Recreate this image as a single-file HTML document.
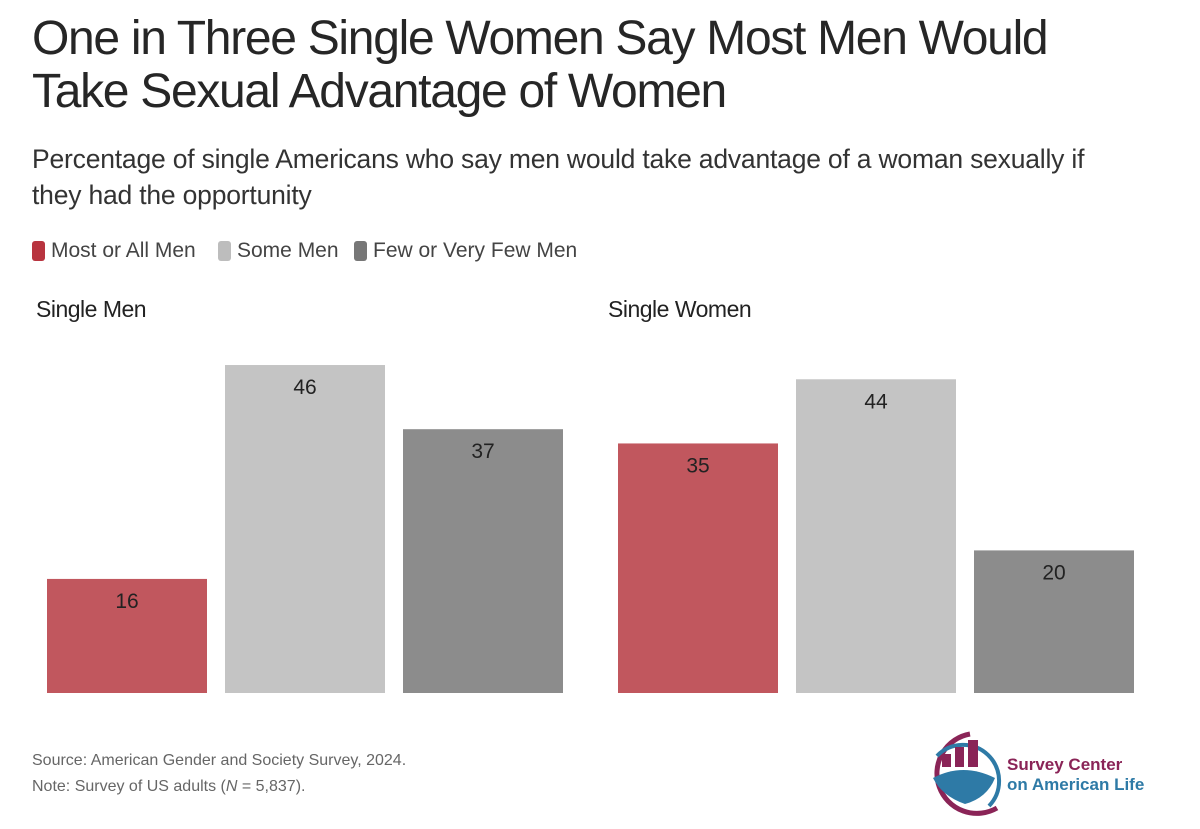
<!DOCTYPE html>
<html><head><meta charset="utf-8">
<style>
body{margin:0;background:#fff;width:1200px;height:829px;overflow:hidden;font-family:"Liberation Sans",sans-serif;color:#2a2a2a;position:relative}
.abs{position:absolute;white-space:nowrap}
#title{left:32px;top:12px;font-size:48px;line-height:53px;letter-spacing:-1.3px;color:#262626}
#sub{left:32px;top:141px;font-size:26.5px;line-height:36px;color:#333;letter-spacing:-0.2px}
.leg{top:239px;font-size:21px;color:#444}
.sw{position:absolute;top:241px;width:13px;height:20px;border-radius:3px}
.panel{top:296px;font-size:23px;color:#222;letter-spacing:-0.5px}
.src{left:32px;font-size:16px;color:#666}
</style></head><body>
<div class="abs" id="title">One in Three Single Women Say Most Men Would<br>Take Sexual Advantage of Women</div>
<div class="abs" id="sub">Percentage of single Americans who say men would take advantage of a woman sexually if<br>they had the opportunity</div>
<div class="sw" style="left:32px;background:#b8343f"></div>
<div class="abs leg" style="left:51px">Most or All Men</div>
<div class="sw" style="left:218px;background:#bdbdbd"></div>
<div class="abs leg" style="left:237px">Some Men</div>
<div class="sw" style="left:354px;background:#777"></div>
<div class="abs leg" style="left:373px">Few or Very Few Men</div>
<div class="abs panel" style="left:36px">Single Men</div>
<div class="abs panel" style="left:608px">Single Women</div>
<svg class="abs" style="left:0;top:0" width="1200" height="829" id="chart"></svg>
<div class="abs src" style="top:752px">Source: American Gender and Society Survey, 2024.</div>
<div class="abs src" style="top:778px">Note: Survey of US adults (<i>N</i> = 5,837).</div>
<svg class="abs" style="left:915px;top:728px" width="280" height="92">
<path d="M55 6 A40 40 0 1 0 82 80" fill="none" stroke="#8a2457" stroke-width="5"/>
<path d="M22 28 A36 36 0 1 1 74 78" fill="none" stroke="#2e7aa6" stroke-width="4"/>
<rect x="27" y="26" width="9" height="13" fill="#8a2457"/><rect x="40" y="19" width="9" height="20" fill="#8a2457"/><rect x="53" y="12" width="10" height="27" fill="#8a2457"/>
<path d="M18 50 Q48 34 80 50 Q72 70 50 76 Q27 68 18 50Z" fill="#2e7aa6"/>
<text x="92" y="42" font-family="Liberation Sans,sans-serif" font-size="17" font-weight="bold" fill="#8a2457">Survey Center</text>
<text x="92" y="62" font-family="Liberation Sans,sans-serif" font-size="17" font-weight="bold" fill="#2e7aa6">on American Life</text>
</svg>
<script>
const categories=["Most or All Men","Some Men","Few or Very Few Men"];
const menValues=[16,46,37];
const womenValues=[35,44,20];
const colors=["#c1575e","#c4c4c4","#8c8c8c"];
const svg=document.getElementById('chart');
const NS='http://www.w3.org/2000/svg';
const base=693, scale=7.13;
function y(v){return base-v*scale;}
function draw(vals,x0,grp){
 vals.forEach((v,i)=>{
  const x=x0+i*178;
  const r=document.createElementNS(NS,'rect');
  r.setAttribute('x',x);r.setAttribute('y',y(v));r.setAttribute('width',160);r.setAttribute('height',base-y(v));r.setAttribute('fill',colors[i]);
  
  
  svg.appendChild(r);
  const t=document.createElementNS(NS,'text');
  t.setAttribute('x',x+80);t.setAttribute('y',y(v)+29);t.setAttribute('text-anchor','middle');
  t.setAttribute('font-size','21');t.setAttribute('fill','#222');t.setAttribute('font-family','Liberation Sans,sans-serif');
  t.textContent=v;
  
  
  svg.appendChild(t);
 });
}
draw(menValues,47,'men');
draw(womenValues,618,'women');
</script>
</body></html>
